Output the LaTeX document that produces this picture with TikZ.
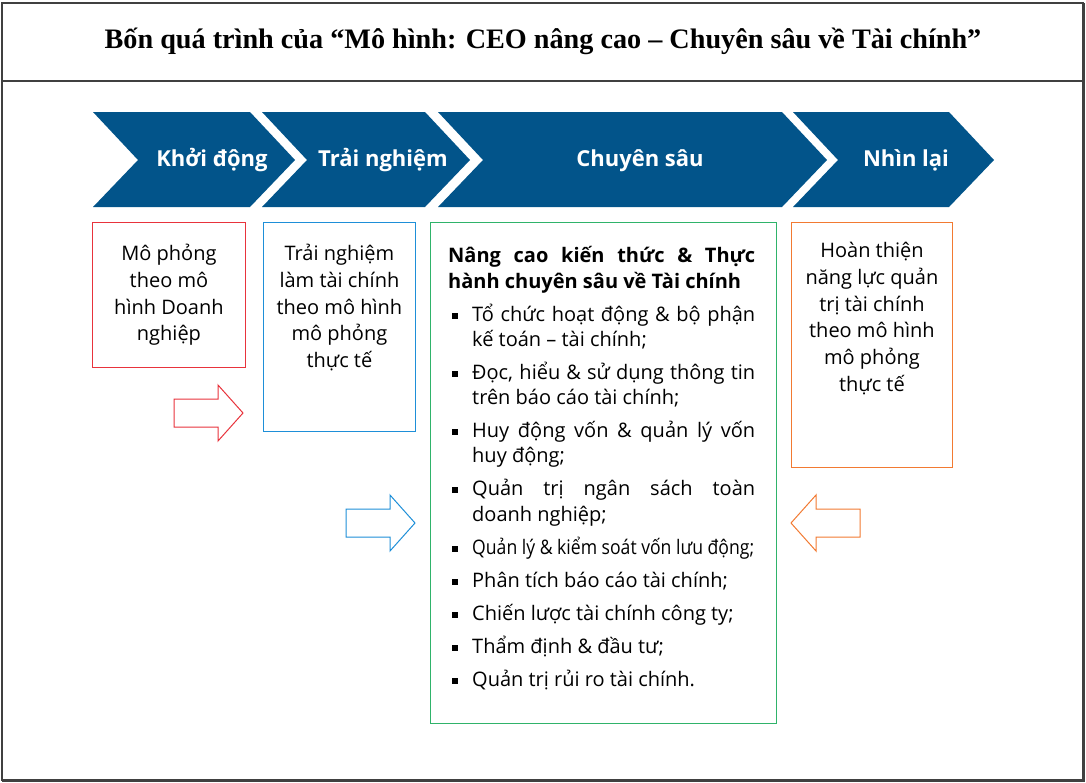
\documentclass[tikz,border=0pt]{standalone}
\usepackage{fontspec}
\setmainfont{Open Sans}
\newfontfamily\titlefont{Liberation Serif}
\usepackage{graphicx}
\usetikzlibrary{positioning}

\definecolor{chevblue}{HTML}{02548A}
\definecolor{boxred}{HTML}{E8333C}
\definecolor{boxblue}{HTML}{1E8FD8}
\definecolor{boxgreen}{HTML}{2FB36A}
\definecolor{boxorange}{HTML}{F27A32}
\definecolor{framegray}{HTML}{404040}

% one square bullet with a hanging indent
\newcommand{\bitem}{\par\vspace{7.7pt}\noindent\hangindent=24pt\hangafter=1%
  \makebox[24pt][l]{\hspace{4pt}\rule[2.5pt]{6pt}{6pt}}}
% a strut that fixes the height of a first line
\newcommand{\firstline}{\rule{0pt}{20pt}}

\begin{document}
\begin{tikzpicture}[x=1pt,y=-1pt,line join=miter,
    frame/.style={draw=framegray,line width=1.3pt},
    chevtext/.style={text=white,anchor=base,font=\fontsize{22}{26}\selectfont\bfseries},
    panel/.style={line width=0.9pt,inner sep=0pt,anchor=north west},
    boxtext/.style={align=center,inner sep=0pt,anchor=north,
        font=\fontsize{20}{26.7}\selectfont},
    listtext/.style={text width=307pt,align=justify,inner sep=0pt,anchor=north west,
        font={\fontsize{20}{25.3}\selectfont\hyphenpenalty=10000 \tolerance=10000\relax}}]
    \useasboundingbox (0,0) rectangle (1086,782);

    % draw the frame and the title
    \draw[frame] (2,3) rectangle (1083,780);
    \draw[frame] (2,81) -- (1083,81);
    \draw[frame,line width=2.6pt] (1083.5,3) -- (1083.5,780.5) -- (2,780.5);
    \node[anchor=base,font=\titlefont\fontsize{28.2}{32}\selectfont\bfseries] (title) at (543,48)
        {Bốn quá trình của “Mô hình: CEO nâng cao – Chuyên sâu về Tài chính”};

    % draw the four chevrons
    \foreach \xa/\xb/\xt/\name/\txt in {
        93/250/212/start/Khởi động,
        262/425/383/try/Trải nghiệm,
        438/782/640/deep/Chuyên sâu,
        793/949/906/review/Nhìn lại} {
            \fill[chevblue] (\xa,112) -- (\xb,112) -- (\xb+45,160) -- (\xb,207)
                -- (\xa,207) -- (\xa+45,160) -- cycle;
            \node[chevtext] (chev-\name) at (\xt,166) {\txt};
    }

    % draw the boxes
    \node[panel,draw=boxred,minimum width=153,minimum height=145] (start-box) at (92,222) {};
    \node[panel,draw=boxblue,minimum width=152,minimum height=209] (try-box) at (263,222) {};
    \node[panel,draw=boxgreen,minimum width=346,minimum height=501] (deep-box) at (430,222) {};
    \node[panel,draw=boxorange,minimum width=161,minimum height=245] (review-box) at (791,222) {};

    % the texts in the boxes
    \node[boxtext] (start-text) at ([yshift=-18.5pt]start-box.north)
        {\firstline Mô phỏng\\theo mô\\hình Doanh\\nghiệp};
    \node[boxtext] (try-text) at ([yshift=-18.5pt]try-box.north)
        {\firstline Trải nghiệm\\làm tài chính\\theo mô hình\\mô phỏng\\thực tế};
    \node[boxtext] (review-text) at ([yshift=-15.5pt]review-box.north)
        {\firstline Hoàn thiện\\năng lực quản\\trị tài chính\\theo mô hình\\mô phỏng\\thực tế};
    \node[listtext] (deep-text) at ([xshift=18pt,yshift=-20.5pt]deep-box.north west) {%
        \firstline{\bfseries Nâng cao kiến thức \& Thực\linebreak hành chuyên sâu về Tài chính\par}
        \bitem Tổ chức hoạt động \& bộ phận\linebreak kế toán – tài chính;
        \bitem Đọc, hiểu \& sử dụng thông tin\linebreak trên báo cáo tài chính;
        \bitem Huy động vốn \& quản lý vốn\linebreak huy động;
        \bitem Quản trị ngân sách toàn\linebreak doanh nghiệp;
        \bitem \scalebox{0.88}[1]{Quản lý \& kiểm soát vốn lưu động;}
        \bitem Phân tích báo cáo tài chính;
        \bitem Chiến lược tài chính công ty;
        \bitem Thẩm định \& đầu tư;
        \bitem Quản trị rủi ro tài chính.\par};

    % draw the block arrows
    \foreach \col/\xa/\xb/\xc/\ym in {
        boxred/174/218/243/413,
        boxblue/346/390/415/523,
        boxorange/860/816/791/523} {
            \draw[\col,line width=1pt,fill=white] (\xa,\ym-14) -- (\xb,\ym-14) -- (\xb,\ym-28)
                -- (\xc,\ym) -- (\xb,\ym+28) -- (\xb,\ym+14) -- (\xa,\ym+14) -- cycle;
    }
\end{tikzpicture}
\end{document}
